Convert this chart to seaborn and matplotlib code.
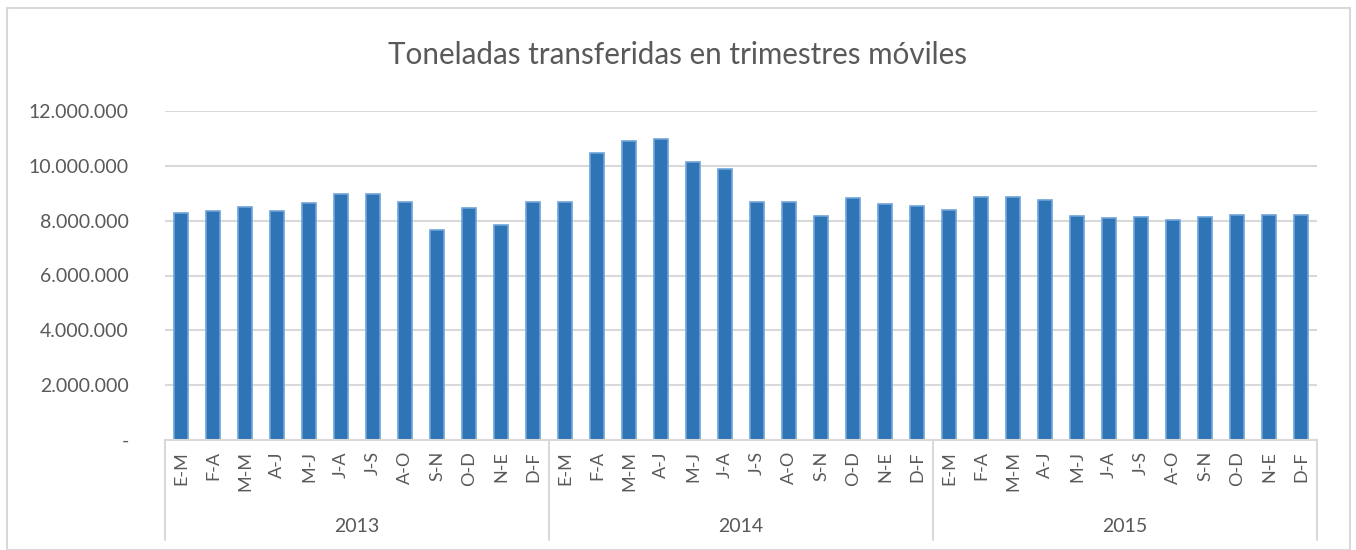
import numpy as np
import pandas as pd
import matplotlib
matplotlib.use('Agg')
import matplotlib.pyplot as plt
from matplotlib.patches import Rectangle
from matplotlib.ticker import FuncFormatter
import seaborn as sns

# Datos (toneladas, trimestres móviles)
anios = ['2013', '2014', '2015']
trimestres = ['E-M', 'F-A', 'M-M', 'A-J', 'M-J', 'J-A', 'J-S', 'A-O', 'S-N', 'O-D', 'N-E', 'D-F']
ton_2013 = [8290000, 8350000, 8490000, 8370000, 8630000, 8960000, 8960000, 8680000, 7670000, 8450000, 7840000, 8670000]
ton_2014 = [8670000, 10480000, 10900000, 10990000, 10130000, 9900000, 8670000, 8670000, 8180000, 8810000, 8600000, 8530000]
ton_2015 = [8400000, 8860000, 8880000, 8750000, 8180000, 8090000, 8130000, 8020000, 8130000, 8200000, 8200000, 8200000]

df = pd.DataFrame({
    'anio': np.repeat(anios, len(trimestres)),
    'trimestre': trimestres * len(anios),
    'toneladas': ton_2013 + ton_2014 + ton_2015,
})
df['pos'] = range(len(df))

sns.set_theme(style='white')
plt.rcParams['font.family'] = ['Lato', 'DejaVu Sans']
gris_texto = '#595959'
gris_linea = '#D9D9D9'

fig = plt.figure(figsize=(13.56, 5.5), dpi=100)
ax = fig.add_axes([165 / 1356, 110 / 550, (1317 - 165) / 1356, (441 - 112) / 550])

sns.barplot(data=df, x='pos', y='toneladas', color='#2E75B6', saturation=1,
            width=0.45, edgecolor='#6FA3D8', linewidth=1.2, ax=ax)

ax.set_ylim(0, 12000000)
ax.set_xlim(-0.5, len(df) - 0.5)
ax.set_yticks(range(0, 12000001, 2000000))
ax.yaxis.set_major_formatter(FuncFormatter(
    lambda v, p: '-' if v == 0 else f'{int(v):,}'.replace(',', '.')))
ax.set_xticks(df['pos'])
ax.set_xticklabels(df['trimestre'], rotation=90)
ax.tick_params(axis='y', labelsize=14, colors=gris_texto, length=0, pad=26)
ax.tick_params(axis='x', labelsize=13, colors=gris_texto, length=0, pad=8)
ax.set_xlabel('')
ax.set_ylabel('')
ax.grid(axis='y', color=gris_linea, linewidth=1.5)
ax.set_axisbelow(True)
for s in ['top', 'right', 'left']:
    ax.spines[s].set_visible(False)
ax.spines['bottom'].set_color(gris_linea)
ax.spines['bottom'].set_linewidth(1.5)

# separadores y etiquetas de año
trans = ax.get_xaxis_transform()
n = len(trimestres)
for i in range(len(anios) + 1):
    ax.plot([i * n - 0.5, i * n - 0.5], [0, -0.305], transform=trans,
            color=gris_linea, linewidth=1.5, clip_on=False)
for i, a in enumerate(anios):
    ax.text(i * n + (n - 1) / 2, -0.262, a, transform=trans, ha='center', va='center',
            fontsize=14, color=gris_texto)

fig.text(0.5, 1 - 55 / 550, 'Toneladas transferidas en trimestres móviles',
         ha='center', va='center', fontsize=21.3, color=gris_texto)

fig.patches.append(Rectangle((7 / 1356, 0), (1350 - 7) / 1356, 1 - 8 / 550,
                             transform=fig.transFigure, fill=False,
                             edgecolor=gris_linea, linewidth=1.5))

fig.savefig('out.png', dpi=100, facecolor='white')
